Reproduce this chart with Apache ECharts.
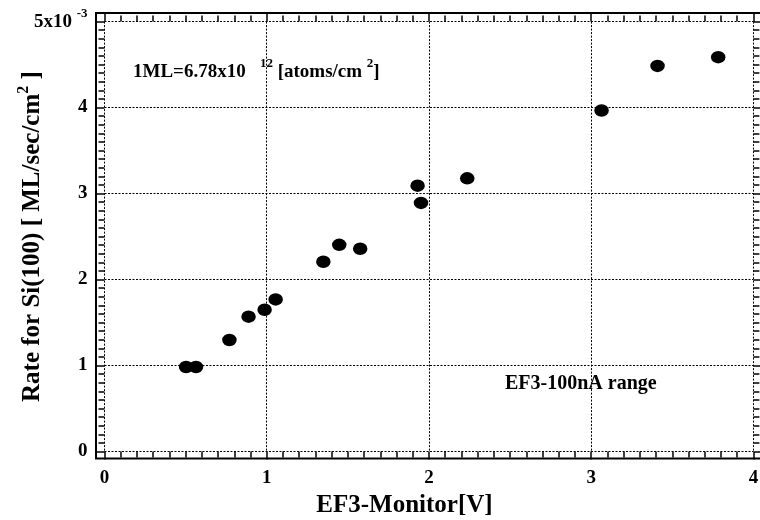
<!DOCTYPE html>
<html><head><meta charset="utf-8">
<script src="https://cdn.jsdelivr.net/npm/echarts@6/dist/echarts.min.js"></script>
<style>html,body{margin:0;padding:0;background:#fff}#c{width:760px;height:520px}</style>
</head><body><div id="c"></div>
<script>
// EF3 monitor voltage [V]
const monitorV = [0.503, 0.564, 0.770, 0.888, 0.987, 1.055, 1.349, 1.447, 1.576, 1.930, 1.951, 2.236, 3.064, 3.409, 3.783];
// Rate for Si(100) [x1e-3 ML/sec/cm^2]
const rateML = [0.983, 0.983, 1.297, 1.568, 1.649, 1.769, 2.207, 2.404, 2.358, 3.092, 2.891, 3.177, 3.966, 4.485, 4.586];
const xTickLabels = ['0', '1', '2', '3', '4'];
const yTickLabels = ['0', '1', '2', '3', '4', '{a|5x10 }{s|-3}'];
const xTitle = 'EF3-Monitor[V]';
const yTitle = '{a|Rate for Si(100) [ ML/sec/cm}{s|2}{a| ]}';
const note1 = '{m|1ML=6.78x10   }{s|12}{m| [atoms/cm }{s|2}{m|]}';
const note2 = 'EF3-100nA range';

const FF = '"Liberation Serif", "Times New Roman", serif';
const chart = echarts.init(document.getElementById('c'));
const tickStyle = {color: '#000', width: 1.5};
const gridStyle = {type: [2, 1.5], color: '#000', width: 1};
function mkX(pos, main) {
  return {
    gridIndex: 0, type: 'value', position: pos, min: 0, max: 4, interval: 1,
    axisLine: {show: false, onZero: false},
    axisTick: {show: true, inside: false, length: 8, lineStyle: tickStyle},
    minorTick: {show: true, splitNumber: 10, length: 6, lineStyle: tickStyle},
    splitLine: {show: main, lineStyle: gridStyle},
    axisLabel: {show: main, margin: 17, color: '#000', fontFamily: FF, fontWeight: 'bold', fontSize: 19,
      formatter: v => xTickLabels[Math.round(v)] || ''},
    name: main ? xTitle : '', nameLocation: 'middle', nameGap: 42, nameMoveOverlap: false,
    nameTextStyle: {color: '#000', fontFamily: FF, fontWeight: 'bold', fontSize: 25, padding: [0, 49, 0, 0]}
  };
}
function mkY(pos, main) {
  return {
    gridIndex: 0, type: 'value', position: pos, min: 0, max: 5, interval: 1,
    axisLine: {show: false, onZero: false},
    axisTick: {show: true, inside: false, length: 8, lineStyle: tickStyle},
    minorTick: {show: true, splitNumber: 10, length: 6, lineStyle: tickStyle},
    splitLine: {show: main, lineStyle: gridStyle},
    axisLabel: {show: main, margin: 17, color: '#000', fontFamily: FF, fontWeight: 'bold', fontSize: 19,
      formatter: v => yTickLabels[Math.round(v)] || '',
      rich: {a: {fontFamily: FF, fontWeight: 'bold', fontSize: 19, lineHeight: 28, color: '#000'},
             s: {fontFamily: FF, fontWeight: 'bold', fontSize: 13, lineHeight: 13, verticalAlign: 'top', color: '#000'}}},
    name: main ? yTitle : '', nameLocation: 'middle', nameGap: 55, nameRotate: 90, nameMoveOverlap: false,
    nameTextStyle: {color: '#000', fontFamily: FF, fontWeight: 'bold', fontSize: 25,
      rich: {a: {fontFamily: FF, fontWeight: 'bold', fontSize: 25, lineHeight: 34, color: '#000'},
             s: {fontFamily: FF, fontWeight: 'bold', fontSize: 16, lineHeight: 16, verticalAlign: 'top', color: '#000'}}}
  };
}
chart.setOption({
  animation: false,
  backgroundColor: '#fff',
  grid: [
    {left: 104.5, right: 6.6, top: 21.6, bottom: 68.5, containLabel: false, outerBoundsMode: 'none'},
    {left: 96, right: -2, top: 13, bottom: 61.5, show: true, borderColor: '#000', borderWidth: 2,
     backgroundColor: 'transparent', containLabel: false, outerBoundsMode: 'none'}
  ],
  xAxis: [mkX('bottom', true), mkX('top', false)],
  yAxis: [mkY('left', true), mkY('right', false)],
  series: [{
    type: 'scatter', xAxisIndex: 0, yAxisIndex: 0,
    symbol: 'circle', symbolSize: [14.5, 12.5],
    itemStyle: {color: '#000', opacity: 1},
    data: monitorV.map((x, i) => [x, rateML[i]])
  }],
  graphic: [
    {type: 'text', left: 133, top: 57, style: {text: note1, fill: '#000',
      rich: {m: {fontFamily: FF, fontWeight: 'bold', fontSize: 19, lineHeight: 30, color: '#000'},
             s: {fontFamily: FF, fontWeight: 'bold', fontSize: 13, lineHeight: 13, verticalAlign: 'top', color: '#000'}}}},
    {type: 'text', left: 505, top: 374, style: {text: note2, fill: '#000', font: 'bold 20px ' + FF}}
  ]
});
</script></body></html>
